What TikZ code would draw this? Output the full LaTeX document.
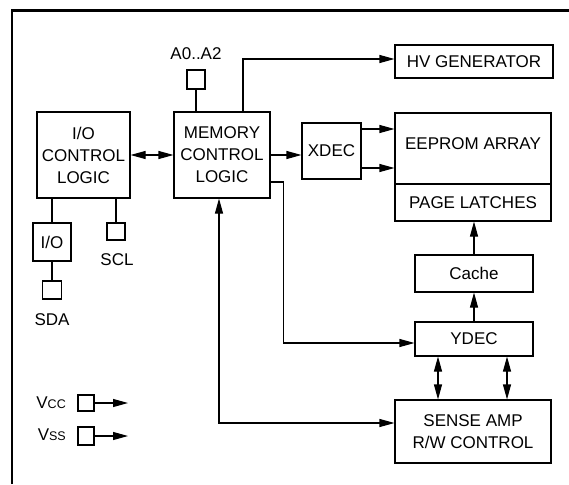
\documentclass[tikz,border=0pt]{standalone}
\usepackage{fontspec}
\setmainfont{Liberation Sans}
\usetikzlibrary{arrows.meta,calc}
\begin{document}
\begin{tikzpicture}[x=1pt,y=-1pt,
  txt/.style={font=\fontsize{17}{22}\selectfont, inner sep=0pt, align=center},
  blk/.style={txt, draw, line width=1.1pt},
  pin/.style={draw, line width=1.1pt, inner sep=0pt},
  wire/.style={line width=1.1pt},
  arr/.style={wire, -{Triangle[length=15pt,width=8pt]}},
  darr/.style={wire, {Triangle[length=15pt,width=8pt]}-{Triangle[length=15pt,width=8pt]}}]
\useasboundingbox (0,0) rectangle (569,484);
% outer frame
\draw[line width=2.4pt] (12,484) -- (12,10.5) -- (569,10.5);
% blocks
\node[blk, minimum width=158pt, minimum height=33pt] (hv) at (474,61.5) {HV GENERATOR};
\node[pin, minimum width=18pt, minimum height=19pt] (pa) at (196,79.5) {};
\node[txt] (la) at (196,54) {A0..A2};
\node[blk, minimum width=96pt, minimum height=86pt] (mem) at (222,155) {MEMORY\\CONTROL\\LOGIC};
\node[blk, minimum width=93pt, minimum height=86pt] (ioc) at (83.5,155) {I/O\\CONTROL\\LOGIC};
\node[blk, minimum width=59pt, minimum height=56pt] (xdec) at (331.5,151) {XDEC};
\node[blk, minimum width=156pt, minimum height=71pt, text depth=10pt] (eeprom) at (473,148.5) {EEPROM ARRAY};
\node[blk, minimum width=156pt, minimum height=37pt] (page) at (473,202.5) {PAGE LATCHES};
\node[blk, minimum width=118pt, minimum height=37pt] (cache) at (474,273.5) {Cache};
\node[blk, minimum width=118pt, minimum height=34pt] (ydec) at (474,339) {YDEC};
\node[blk, minimum width=156pt, minimum height=63pt] (sense) at (473,431.5) {SENSE AMP\\R/W CONTROL};
\node[blk, minimum width=38pt, minimum height=38pt] (io) at (52,242) {I/O};
\node[pin, minimum width=19pt, minimum height=18pt] (psda) at (52,290) {};
\node[txt] (lsda) at (52,320) {SDA};
\node[pin, minimum width=18pt, minimum height=17pt] (pscl) at (116,231.5) {};
\node[txt] (lscl) at (117,260) {SCL};
\node[pin, minimum width=16pt, minimum height=16pt] (pvcc) at (86,403) {};
\node[pin, minimum width=16pt, minimum height=18pt] (pvss) at (86,436) {};
\node[txt, anchor=east] (lvcc) at (66,403) {V{\fontsize{12.5}{14}\selectfont CC}};
\node[txt, anchor=east] (lvss) at (66,435) {V{\fontsize{12.5}{14}\selectfont SS}};
\coordinate (evcc) at (128,403);
\coordinate (evss) at (128,436);
% connectors
\draw[wire] (pa.south) -- (pa.south |- mem.north);
\draw[arr] ([xshift=21pt]mem.north) |- ([yshift=2.5pt]hv.west);
\draw[darr] (ioc.east) -- (mem.west);
\draw[arr] (mem.east) -- (mem.east -| xdec.west);
\draw[arr] ([yshift=22pt]xdec.east) -- ([yshift=22pt]xdec.east -| eeprom.west);
\draw[arr] ([yshift=-17pt]xdec.east) -- ([yshift=-17pt]xdec.east -| eeprom.west);
\draw[arr] ([yshift=-27pt]mem.east) -- ++(13,0) |- ([yshift=-4pt]ydec.west);
\draw[darr] ([xshift=-3pt]mem.south) |- ([yshift=8.5pt]sense.west);
\draw[arr] (cache.north) -- (cache.north |- page.south);
\draw[arr] (ydec.north) -- (ydec.north |- cache.south);
\draw[darr] ([xshift=-36pt]ydec.south) -- ([xshift=-36pt]ydec.south |- sense.north);
\draw[darr] ([xshift=33pt]ydec.south) -- ([xshift=33pt]ydec.south |- sense.north);
\draw[wire] (io.north |- ioc.south) -- (io.north);
\draw[wire] (io.south) -- (psda.north);
\draw[wire] (pscl.north |- ioc.south) -- (pscl.north);
\draw[arr] (pvcc.east) -- (evcc);
\draw[arr] (pvss.east) -- (evss);
\end{tikzpicture}
\end{document}
